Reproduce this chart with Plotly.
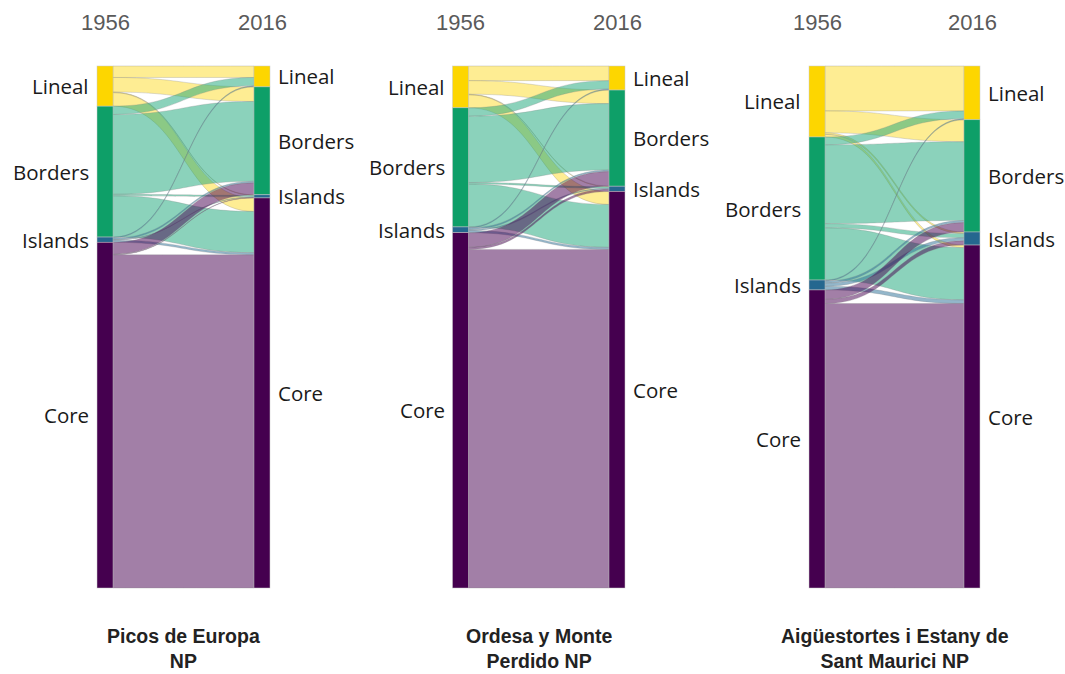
import plotly.graph_objects as go

# ---- data -------------------------------------------------------------
classes = ["Lineal", "Borders", "Islands", "Core"]
years = ["1956", "2016"]
park_titles = ["Picos de Europa<br>NP", "Ordesa y Monte<br>Perdido NP",
               "Aigüestortes i Estany de<br>Sant Maurici NP"]

# flows (% of park area): rows = class in 1956, cols = class in 2016
# order of both: Lineal, Borders, Islands, Core
picos_flows = [
    [2.2, 2.8, 0.1, 2.6],
    [1.6, 15.3, 0.3, 7.9],
    [0.2, 0.3, 0.1, 0.4],
    [0.0, 2.3, 0.1, 63.9],
]
ordesa_flows = [
    [2.8, 2.6, 0.1, 2.5],
    [1.6, 12.7, 0.3, 8.2],
    [0.2, 0.3, 0.2, 0.4],
    [0.0, 2.8, 0.4, 64.8],
]
aigues_flows = [
    [8.6, 4.2, 0.3, 0.5],
    [1.5, 15.1, 0.8, 10.0],
    [0.2, 0.4, 0.6, 0.7],
    [0.0, 1.8, 0.8, 54.5],
]
all_flows = [picos_flows, ordesa_flows, aigues_flows]

node_colors = ["#FDD600", "#0E9F68", "#25678F", "#45004F"]
link_colors = ["rgba(253,220,40,0.5)", "rgba(24,165,120,0.5)",
               "rgba(40,110,150,0.5)", "rgba(69,0,79,0.5)"]

# ---- layout geometry (pixels) ----------------------------------------
W, H = 1065, 674
col_centers = [(105, 262), (460.5, 617), (817, 972)]
top_px, bot_px = 66, 588
node_thick = 16

fig = go.Figure()

label_font = dict(family="Open Sans, sans-serif", size=20.5, color="#1a1a1a")

for p, flows in enumerate(all_flows):
    n = len(classes)
    src_tot = [sum(flows[i]) for i in range(n)]
    tgt_tot = [sum(flows[i][j] for i in range(n)) for j in range(n)]
    total_s = sum(src_tot)
    total_t = sum(tgt_tot)

    def centers(tots, total):
        out, c = [], 0.0
        for v in tots:
            out.append((c + v / 2) / total)
            c += v
        return out

    ys = centers(src_tot, total_s)
    yt = centers(tgt_tot, total_t)

    sources, targets, values, lcols = [], [], [], []
    for i in range(n):
        for j in range(n):
            if flows[i][j] > 0:
                sources.append(i)
                targets.append(n + j)
                values.append(flows[i][j])
                lcols.append(link_colors[i])

    x0, x1 = col_centers[p]
    dom_x = [x0 / W, x1 / W]
    dom_y = [1 - bot_px / H, 1 - top_px / H]

    fig.add_trace(go.Sankey(
        arrangement="fixed",
        domain=dict(x=dom_x, y=dom_y),
        node=dict(
            label=["" for _ in range(2 * n)],
            color=node_colors + node_colors,
            x=[0.0001] * n + [0.9999] * n,
            y=ys + yt,
            pad=0,
            thickness=node_thick,
            line=dict(color="rgba(200,200,200,0.8)", width=0.6),
            hoverinfo="skip",
        ),
        link=dict(
            source=sources, target=targets, value=values, color=lcols,
            line=dict(color="rgba(130,130,130,0.45)", width=0.6),
            hoverinfo="skip",
        ),
    ))

    # node labels
    span = bot_px - top_px
    for k, cls in enumerate(classes):
        fig.add_annotation(
            x=(x0 - node_thick / 2 - 6) / W, y=1 - (top_px + ys[k] * span) / H,
            xref="paper", yref="paper", text=cls, showarrow=False,
            xanchor="right", yanchor="middle", font=label_font)
        fig.add_annotation(
            x=(x1 + node_thick / 2 + 6) / W, y=1 - (top_px + yt[k] * span) / H,
            xref="paper", yref="paper", text=cls, showarrow=False,
            xanchor="left", yanchor="middle", font=label_font)

    # year labels
    for xc, yr in zip((x0, x1), years):
        fig.add_annotation(
            x=xc / W, y=1 - 22 / H, xref="paper", yref="paper", text=yr,
            showarrow=False, xanchor="center", yanchor="middle",
            font=dict(family="Liberation Sans, Arial, sans-serif", size=22,
                      color="#5a5a5a"))

    # park titles
    fig.add_annotation(
        x=(x0 + x1) / 2 / W, y=1 - 648 / H, xref="paper", yref="paper",
        text="<b>" + park_titles[p] + "</b>", showarrow=False,
        xanchor="center", yanchor="middle",
        font=dict(family="Liberation Sans, Arial, sans-serif", size=19.5,
                  color="#222222"))

fig.update_layout(
    width=W, height=H,
    margin=dict(l=0, r=0, t=0, b=0),
    paper_bgcolor="white", plot_bgcolor="white",
    showlegend=False,
)

fig.write_html("out.html")
